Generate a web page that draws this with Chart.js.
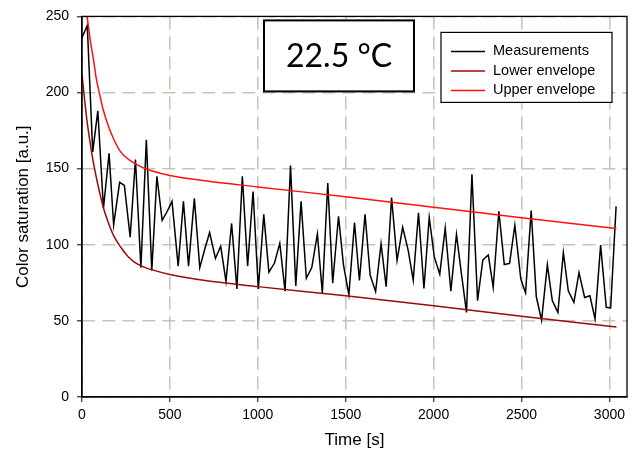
<!DOCTYPE html>
<html><head><meta charset="utf-8">
<script src="https://cdn.jsdelivr.net/npm/chart.js@4.4.1/dist/chart.umd.min.js"></script>
<style>html,body{margin:0;padding:0;background:#fff}canvas{display:block}</style>
</head><body>
<canvas id="c" width="637" height="461"></canvas>
<script>
const measTime = [0,30,61,90,122,154,180,214,241,274,
  304,335,366,397,426,456,485,512,547,577,
  606,639,670,698,726,759,789,819,851,881,
  912,942,973,1003,1034,1063,1095,1125,1155,1186,
  1216,1246,1276,1307,1339,1367,1398,1426,1459,1487,
  1518,1550,1578,1610,1639,1670,1701,1730,1761,1792,
  1824,1856,1884,1914,1945,1975,2004,2035,2066,2098,
  2130,2157,2187,2218,2250,2280,2311,2339,2371,2402,
  2432,2462,2496,2523,2555,2584,2614,2647,2675,2707,
  2738,2766,2798,2827,2859,2889,2918,2950,2982,3007,3038];
const measValues = [236,244,161,188,124,160,113,141,139,105,
  156,85,169,83,145,116,122,128.5,86,128.5,
  86,130.5,85,97,108,91,99,76,114,71,
  145,86,135,71,120,82,88,101,69.5,152,
  73,128.5,78,85,107,68.3,140.5,74.7,118.7,87,
  67.2,114.5,76.5,120,80,69.3,100.7,72.5,131,89.8,
  111.5,96,76.8,121,71.3,118,92,80.7,111,69.5,
  106.8,82,55.6,146.3,63.3,90,93.3,72,122,87,
  87.7,112.8,77.4,68.4,122.4,66,50.3,86.8,63.3,55.6,
  94.8,69.8,62.2,81.7,65.4,66.5,51.3,99.8,58.9,58.5,125.2];
const lowerTime = [0,15,30,45,60,80,100,120,150,180,220,260,300,350,400,500,700,1000,1500,2000,2500,3040];
const lowerValues = [212,195,180,168,157,145,134.5,125,114.5,106,98.5,92.5,88.5,85.5,83.5,80.5,76.5,72.5,66.5,60,53,46];
const upperTime = [0,15,30,50,65,80,100,120,150,180,220,260,300,350,400,500,700,1000,1500,2000,2500,3040];
const upperValues = [280,262,249,232,222,210,199,189,178,169.5,161,156.5,153.5,150.5,148.5,145.5,142,138,131.5,124.7,117.8,110.7];
const xTickValues = [0,500,1000,1500,2000,2500,3000];
const yTickValues = [0,50,100,150,200,250];
const seriesNames = ['Measurements','Lower envelope','Upper envelope'];
const seriesColors = ['#000000','#9b0a0a','#ff1010'];
const panelTitle = '22.5 °C';
const xTitle = 'Time [s]';
const yTitle = 'Color saturation [a.u.]';

const toXY = (xs, ys) => xs.map((x, i) => ({x: x, y: ys[i]}));

const decor = {
  id: 'decor',
  afterDraw(chart) {
    const ctx = chart.ctx, a = chart.chartArea;
    ctx.save();
    // frame
    ctx.strokeStyle = '#000'; ctx.lineWidth = 1.3;
    ctx.strokeRect(a.left, a.top, a.right - a.left, a.bottom - a.top);
    // panel title box
    const bx = a.left + 182, by = a.top + 4, bw = 150, bh = 71;
    ctx.fillStyle = '#fff'; ctx.fillRect(bx, by, bw, bh);
    ctx.lineWidth = 2; ctx.strokeStyle = '#000'; ctx.strokeRect(bx, by, bw, bh);
    ctx.fillStyle = '#000'; ctx.font = '32px Lato'; ctx.textAlign = 'center'; ctx.textBaseline = 'middle';
    ctx.fillText(panelTitle, bx + bw / 2, by + bh / 2 + 1);
    // legend
    const lx = a.left + 359, ly = a.top + 16, lw = 171, lh = 70;
    ctx.fillStyle = '#fff'; ctx.fillRect(lx, ly, lw, lh);
    ctx.lineWidth = 1.2; ctx.strokeRect(lx, ly, lw, lh);
    ctx.font = '14.5px "Liberation Sans", Arial, sans-serif'; ctx.textAlign = 'left'; ctx.textBaseline = 'middle';
    chart.data.datasets.forEach((ds, i) => {
      const yy = ly + 19 + i * 19.5;
      ctx.strokeStyle = ds.borderColor; ctx.lineWidth = 1.5;
      ctx.beginPath(); ctx.moveTo(lx + 10, yy); ctx.lineTo(lx + 44, yy); ctx.stroke();
      ctx.fillStyle = '#000'; ctx.fillText(ds.label, lx + 52, yy);
    });
    ctx.restore();
  }
};

const gridCol = '#c6c6b8';
const fontFam = '"Liberation Sans", Arial, sans-serif';
new Chart(document.getElementById('c'), {
  type: 'line',
  data: {
    datasets: [
      {label: seriesNames[0], data: toXY(measTime, measValues), borderColor: seriesColors[0], borderWidth: 1.5, pointRadius: 0, tension: 0, order: 2},
      {label: seriesNames[1], data: toXY(lowerTime, lowerValues), borderColor: seriesColors[1], borderWidth: 1.5, pointRadius: 0, cubicInterpolationMode: 'monotone', order: 1},
      {label: seriesNames[2], data: toXY(upperTime, upperValues), borderColor: seriesColors[2], borderWidth: 1.5, pointRadius: 0, cubicInterpolationMode: 'monotone', order: 0}
    ]
  },
  options: {
    responsive: false,
    animation: false,
    devicePixelRatio: 1,
    layout: {padding: {top: 13, right: 10, left: 0, bottom: 0}},
    plugins: {legend: {display: false}, tooltip: {enabled: false}},
    scales: {
      x: {
        type: 'linear', min: 0, max: 3100,
        afterFit: s => { s.height = 64; },
        afterBuildTicks: s => { s.ticks = xTickValues.map(v => ({value: v})); },
        ticks: {color: '#000', padding: 5, maxRotation: 0, autoSkip: false,
          callback: v => String(v),
          font: {family: fontFam, size: 14}},
        grid: {color: gridCol, lineWidth: 1.6, tickColor: '#000', tickLength: 5, tickWidth: 1},
        border: {display: true, color: '#000', width: 1.3, dash: [13, 7]},
        title: {display: true, text: xTitle, color: '#000', padding: {top: 0, bottom: 10},
          font: {family: fontFam, size: 17}}
      },
      y: {
        type: 'linear', min: 0, max: 250,
        afterFit: s => { s.width = 82; },
        afterBuildTicks: s => { s.ticks = yTickValues.map(v => ({value: v})); },
        ticks: {color: '#000', padding: 8, autoSkip: false,
          callback: v => String(v),
          font: {family: fontFam, size: 14}},
        grid: {color: gridCol, lineWidth: 1.6, tickColor: '#000', tickLength: 5, tickWidth: 1},
        border: {display: true, color: '#000', width: 1.3, dash: [13, 7]},
        title: {display: true, text: yTitle, color: '#000', padding: {top: 13, bottom: 0},
          font: {family: fontFam, size: 17}}
      }
    }
  },
  plugins: [decor]
});
</script>
</body></html>
